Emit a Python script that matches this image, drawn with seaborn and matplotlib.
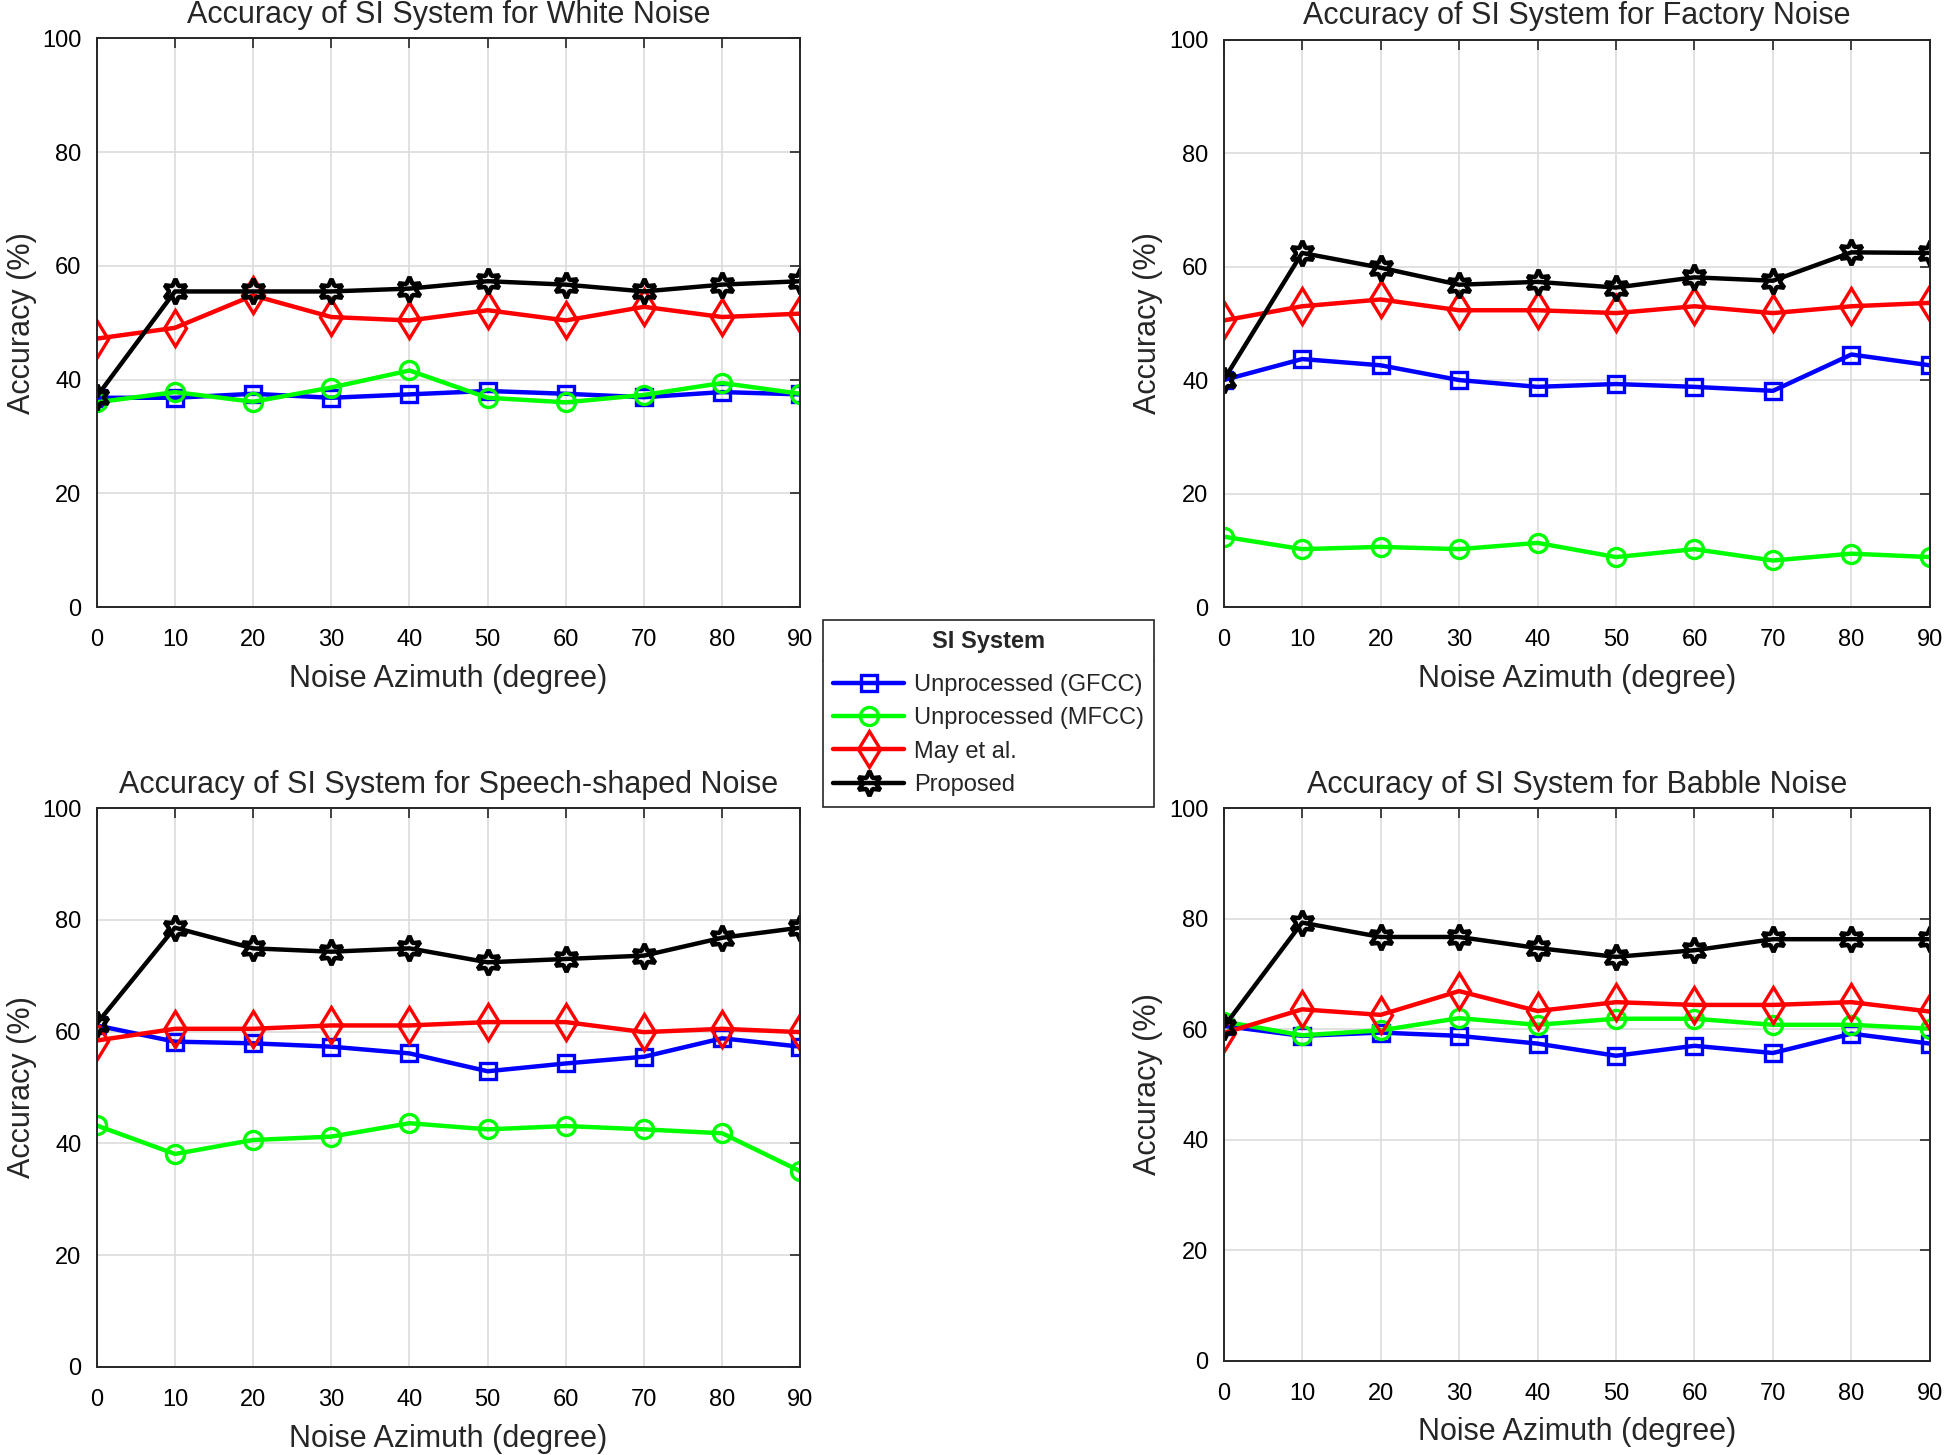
import numpy as np
import pandas as pd
import seaborn as sns
import matplotlib.pyplot as plt


azimuth = [0, 10, 20, 30, 40, 50, 60, 70, 80, 90]
system_names = ['Unprocessed (GFCC)', 'Unprocessed (MFCC)', 'May et al.', 'Proposed']
noise_names = ['White', 'Factory', 'Speech-shaped', 'Babble']

# accuracy (%), one list per system and noise type
white_gfcc = [36.8, 36.8, 37.5, 36.8, 37.4, 38.0, 37.5, 36.9, 37.8, 37.4]
white_mfcc = [36.0, 37.8, 36.1, 38.6, 41.6, 36.8, 36.0, 37.3, 39.4, 37.5]
white_may = [47.2, 49.1, 54.8, 51.0, 50.4, 52.2, 50.4, 52.8, 51.0, 51.6]
white_prop = [37.0, 55.5, 55.5, 55.5, 56.0, 57.3, 56.7, 55.5, 56.7, 57.3]

factory_gfcc = [40.0, 43.7, 42.6, 40.0, 38.8, 39.3, 38.8, 38.1, 44.5, 42.6]
factory_mfcc = [12.4, 10.2, 10.6, 10.2, 11.3, 8.8, 10.2, 8.2, 9.4, 8.8]
factory_may = [50.5, 53.0, 54.2, 52.3, 52.3, 51.8, 53.0, 51.8, 53.0, 53.6]
factory_prop = [40.0, 62.4, 59.8, 56.8, 57.3, 56.3, 58.1, 57.5, 62.5, 62.4]

speech_gfcc = [61.1, 58.2, 57.9, 57.3, 56.1, 52.9, 54.3, 55.5, 58.8, 57.3]
speech_mfcc = [43.2, 38.1, 40.6, 41.2, 43.6, 42.5, 43.1, 42.5, 41.8, 35.0]
speech_may = [58.4, 60.5, 60.5, 61.1, 61.1, 61.7, 61.7, 59.9, 60.5, 59.9]
speech_prop = [61.4, 78.6, 74.9, 74.3, 74.9, 72.4, 73.0, 73.6, 76.8, 78.6]

babble_gfcc = [60.6, 58.8, 59.4, 58.8, 57.4, 55.2, 57.0, 55.7, 59.2, 57.4]
babble_mfcc = [61.4, 58.9, 59.8, 62.0, 60.8, 61.9, 61.9, 60.8, 60.8, 60.1]
babble_may = [59.3, 63.6, 62.6, 66.9, 63.3, 64.9, 64.4, 64.4, 64.9, 63.2]
babble_prop = [60.4, 79.3, 76.7, 76.7, 74.7, 73.1, 74.3, 76.3, 76.3, 76.3]

panels = {
    'White': [white_gfcc, white_mfcc, white_may, white_prop],
    'Factory': [factory_gfcc, factory_mfcc, factory_may, factory_prop],
    'Speech-shaped': [speech_gfcc, speech_mfcc, speech_may, speech_prop],
    'Babble': [babble_gfcc, babble_mfcc, babble_may, babble_prop],
}

colors = ['#0000ff', '#00ff00', '#ff0000', '#000000']
markers = ['s', 'o', 'd', (6, 1, 0)]
msizes = [11, 13, 18, 18]

rows = []
for noise in noise_names:
    for name, vals in zip(system_names, panels[noise]):
        for az, v in zip(azimuth, vals):
            rows.append({'noise': noise, 'system': name, 'azimuth': az, 'acc': v})
df = pd.DataFrame(rows)

sns.set_theme(style='white')
plt.rcParams['font.family'] = ['Liberation Sans', 'DejaVu Sans']
plt.rcParams['axes.edgecolor'] = '#262626'

fig = plt.figure(figsize=(19.46, 14.55), dpi=100)
rects = {
    'White': [0.0497, 0.5828, 0.3616, 0.3908],
    'Factory': [0.6288, 0.5828, 0.3629, 0.3900],
    'Speech-shaped': [0.0497, 0.0606, 0.3616, 0.3840],
    'Babble': [0.6288, 0.0648, 0.3629, 0.3797],
}

axes = {}
for noise in noise_names:
    ax = fig.add_axes(rects[noise])
    axes[noise] = ax
    sub = df[df['noise'] == noise]
    for name, c, m, ms in zip(system_names, colors, markers, msizes):
        d = sub[sub['system'] == name]
        mew = 3.2 if name == 'Proposed' else 2.4
        sns.lineplot(data=d, x='azimuth', y='acc', ax=ax, color=c, marker=m,
                     markersize=ms, markerfacecolor='none', markeredgecolor=c,
                     markeredgewidth=mew, linewidth=3.2, label=name, legend=False)
    ax.set_xlim(0, 90)
    ax.set_ylim(0, 100)
    ax.set_xticks(azimuth)
    ax.set_yticks(range(0, 101, 20))
    ax.grid(True, color='#dcdcdc', linewidth=1.2)
    ax.tick_params(direction='in', length=7, width=1.2, top=True, right=True,
                   labelsize=17, colors='#262626', labelcolor='black', pad=11)
    ax.tick_params(axis='x', pad=16)
    for s in ax.spines.values():
        s.set_linewidth(1.4)
        s.set_color('#262626')
    ax.set_xlabel('Noise Azimuth (degree)', fontsize=22, labelpad=9)
    ax.set_ylabel('Accuracy (%)', fontsize=22, labelpad=4)
    ax.set_title('Accuracy of SI System for %s Noise' % noise, fontsize=22, pad=11)

handles = axes['White'].lines[:4]
leg = fig.legend(handles, system_names, title='SI System', loc='upper left',
                 bbox_to_anchor=(0.4228, 0.5742), fontsize=17, frameon=True,
                 fancybox=False, framealpha=1, edgecolor='#262626',
                 borderaxespad=0, handlelength=3.0, labelspacing=0.48,
                 borderpad=0.45, handletextpad=0.4,
                 title_fontproperties={'weight': 'bold', 'size': 17})
leg.get_frame().set_linewidth(1.2)
leg._legend_box.sep = 15

# separator under the legend title, as in MATLAB legends
fig.canvas.draw()
r = fig.canvas.get_renderer()
tb = leg.get_title().get_window_extent(r)
fb = leg.get_frame().get_window_extent(r)
inv = fig.transFigure.inverted()
(x0, y0), (x1, _) = inv.transform([(fb.x0, tb.y0 - 8), (fb.x1, tb.y0 - 8)])
fig.add_artist(plt.Line2D([x0, x1], [y0, y0], color='#262626', linewidth=1.2,
                          transform=fig.transFigure))

fig.savefig('out.png', dpi=100)
